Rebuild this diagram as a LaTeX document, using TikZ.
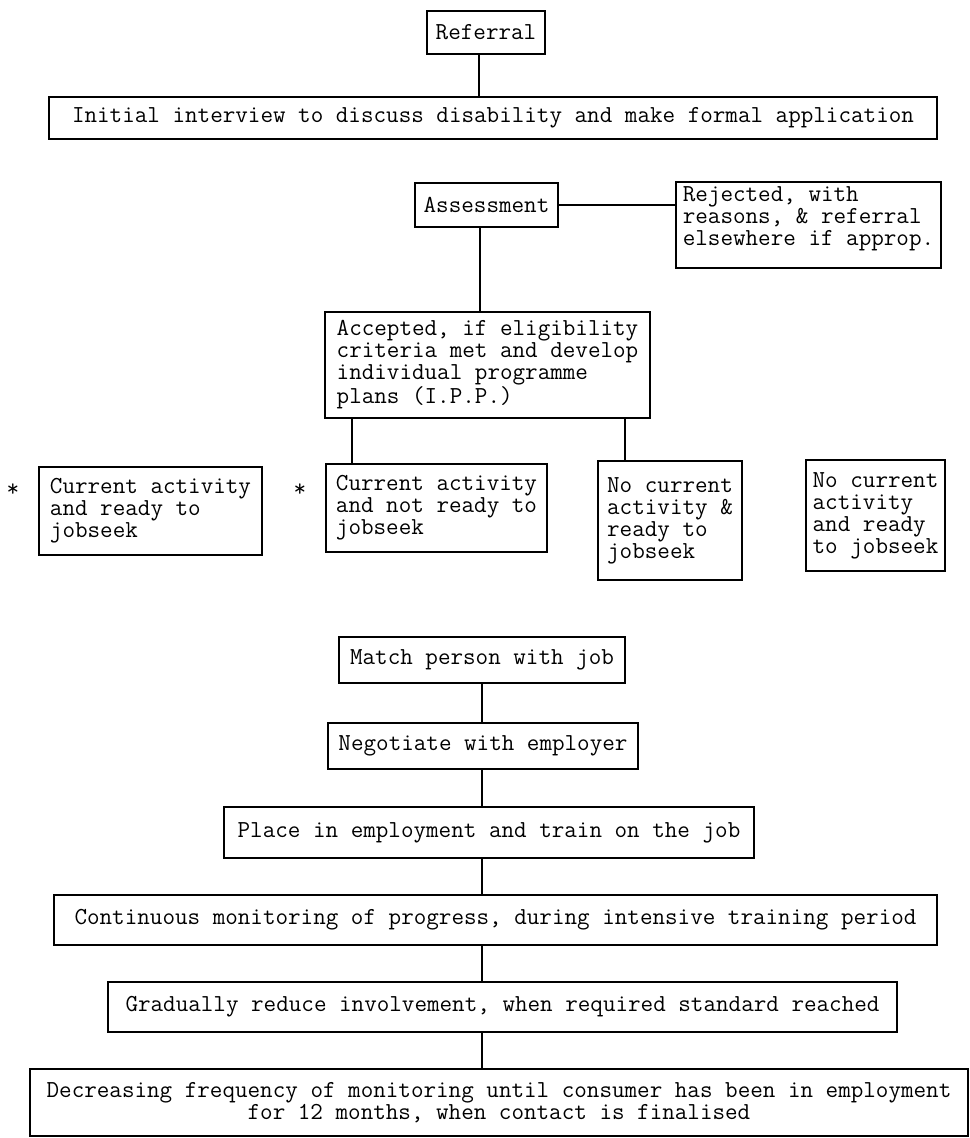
\documentclass[tikz,border=0pt]{standalone}
\usepackage{fontspec}
\newcommand{\topblock}[2]{\vbox to #1{\hbox{\begin{tabular}[t]{@{}l@{}}#2\end{tabular}}\vss}}
\begin{document}
\begin{tikzpicture}[x=0.75pt,y=-0.75pt,
  every node/.style={font=\ttfamily\fontsize{18.3pt}{16.5pt}\selectfont, inner sep=0pt},
  box/.style={draw, line width=1pt},
  link/.style={line width=1pt}]
\useasboundingbox (0,0) rectangle (970,1138);
\fill[white] (0,0) rectangle (970,1138);

% columns for connectors
\coordinate (c479) at (479,0);
\coordinate (c480) at (480,0);
\coordinate (c352) at (352,0);
\coordinate (c625) at (625,0);
\coordinate (c482) at (482,0);

% upper part
\node[box, minimum width=88.5pt, minimum height=32.25pt] (ref) at (486,32.5) {Referral};
\node[box, minimum width=666pt, minimum height=31.5pt] (init) at (493,118)
  {Initial interview to discuss disability and make formal application};
\node[box, minimum width=107.25pt, minimum height=33pt] (assess) at (486.5,205) {Assessment};
\node[box, minimum width=198.75pt, inner ysep=3pt] (rej) at (808.5,225)
  {\topblock{58.5pt}{Rejected, with\\reasons, \& referral\\elsewhere if approp.}};
\node[box, align=left, minimum width=243.75pt, minimum height=79.5pt] (acc) at (487.5,365)
  {Accepted, if eligibility\\criteria met and develop\\individual programme\\plans (I.P.P.)};

% row of four
\node (s1) [anchor=base] at (13,496) {*};
\node (s2) [anchor=base] at (300,496) {*};
\node[box, align=left, minimum width=167.25pt, minimum height=66pt] (b1) at (150.5,511)
  {Current activity\\and ready to\\jobseek};
\node[box, align=left, minimum width=165.75pt, minimum height=66pt] (b2) at (436.5,508)
  {Current activity\\and not ready to\\jobseek};
\node[box, align=left, minimum width=108pt, minimum height=89.25pt] (b3) at (670,520.5)
  {No current\\activity \&\\ready to\\jobseek};
\node[box, align=left, minimum width=104.25pt, minimum height=83.25pt] (b4) at (875.5,515.5)
  {No current\\activity\\and ready\\to jobseek};

% lower part
\node[box, minimum width=214.5pt, minimum height=34.5pt] (match) at (482,660) {Match person with job};
\node[box, minimum width=232.5pt, minimum height=34.5pt] (neg) at (483,746) {Negotiate with employer};
\node[box, minimum width=397.5pt, minimum height=38.25pt] (place) at (489,832.5)
  {Place in employment and train on the job};
\node[box, minimum width=662.25pt, minimum height=37.5pt] (cont) at (495.5,920)
  {Continuous monitoring of progress, during intensive training period};
\node[box, minimum width=591.75pt, minimum height=37.5pt] (grad) at (502.5,1007)
  {Gradually reduce involvement, when required standard reached};
\node[box, align=center, minimum width=703.5pt, minimum height=50.25pt] (final) at (499,1102.5)
  {Decreasing frequency of monitoring until consumer has been in employment\\for 12 months, when contact is finalised};

% connectors
\draw[link] (ref.south -| c479) -- (init.north -| c479);
\draw[link] (assess.east) -- (rej.west |- assess.east);
\draw[link] (assess.south -| c480) -- (acc.north -| c480);
\draw[link] (acc.south -| c352) -- (b2.north -| c352);
\draw[link] (acc.south -| c625) -- (b3.north -| c625);
\draw[link] (match.south -| c482) -- (neg.north -| c482);
\draw[link] (neg.south -| c482) -- (place.north -| c482);
\draw[link] (place.south -| c482) -- (cont.north -| c482);
\draw[link] (cont.south -| c482) -- (grad.north -| c482);
\draw[link] (grad.south -| c482) -- (final.north -| c482);
\end{tikzpicture}
\end{document}
